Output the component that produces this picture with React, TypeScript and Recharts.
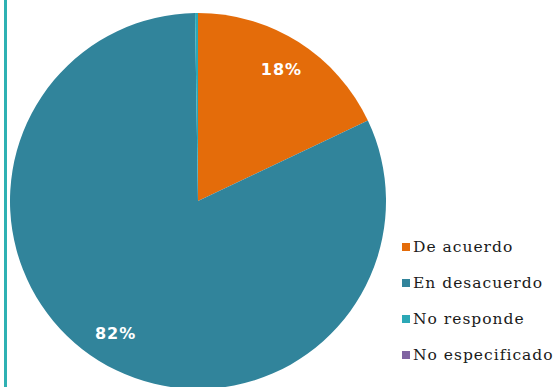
import React from "react";
import { PieChart, Pie, Cell, Legend } from "recharts";

const categories = ["De acuerdo", "En desacuerdo", "No responde", "No especificado"];
const values = [18, 82, 0.25, 0];
const valueLabels = ["18%", "82%", "", ""];
const colors = ["#E46C0A", "#31849B", "#2BA8B6", "#8064A2"];

const data = categories.map((name, i) => ({ name, value: values[i], label: valueLabels[i] }));

const RAD = Math.PI / 180;

const renderLabel = (props: any) => {
  const { cx, cy, midAngle, outerRadius, index } = props;
  const text = valueLabels[index];
  if (!text) return null;
  const r = outerRadius * 0.83;
  const x = cx + r * Math.cos(-midAngle * RAD);
  const y = cy + r * Math.sin(-midAngle * RAD);
  return (
    <text
      x={x}
      y={y}
      fill="#ffffff"
      textAnchor="middle"
      dominantBaseline="central"
      fontFamily="'DejaVu Sans', sans-serif"
      fontWeight="bold"
      fontSize={16}
      style={{ letterSpacing: 1 }}
    >
      {text}
    </text>
  );
};

const renderLegend = () => (
  <div style={{ fontFamily: "'DejaVu Serif', serif", fontSize: 15.5, color: "#1a1a1a" }}>
    {categories.map((c, i) => (
      <div key={c} style={{ display: "flex", alignItems: "center", height: 36 }}>
        <span
          style={{
            display: "inline-block",
            width: 8,
            height: 8,
            background: colors[i],
            marginRight: 3,
          }}
        />
        <span style={{ letterSpacing: 1 }}>{c}</span>
      </div>
    ))}
  </div>
);

export default function App() {
  return (
    <div style={{ position: "fixed", left: 0, top: 0, width: 560, height: 387, background: "#fff", overflow: "hidden" }}>
      <div style={{ position: "absolute", left: 4, top: 0, width: 3, height: 387, background: "#2FB1B3" }} />
      <PieChart width={560} height={387} margin={{ top: 0, right: 0, bottom: 0, left: 0 }}>
        <Pie
          data={data}
          dataKey="value"
          nameKey="name"
          cx={198}
          cy={201}
          outerRadius={188}
          startAngle={90}
          endAngle={-270}
          stroke="none"
          label={renderLabel}
          labelLine={false}
          isAnimationActive={false}
        >
          {data.map((d, i) => (
            <Cell key={d.name} fill={colors[i]} />
          ))}
        </Pie>
        <Legend
          content={renderLegend}
          layout="vertical"
          wrapperStyle={{ position: "absolute", left: 402, top: 229, width: 158 }}
        />
      </PieChart>
    </div>
  );
}
